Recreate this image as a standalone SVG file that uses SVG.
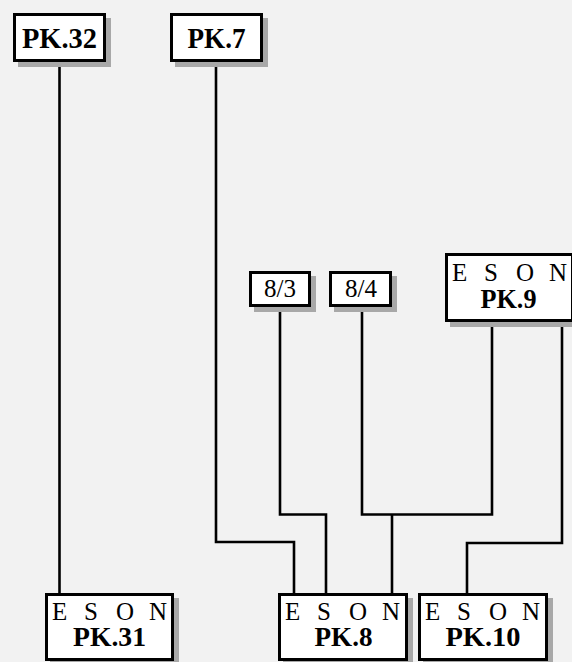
<svg xmlns="http://www.w3.org/2000/svg" width="572" height="662" viewBox="0 0 572 662">
<style>
.bg{fill:#f2f2f2}
.box{fill:#fff;stroke:#000;stroke-width:3}
.sh{fill:#a8a8a8}
.wire{fill:none;stroke:#000;stroke-width:2.6}
.b{font-family:"Liberation Serif","Times New Roman",serif;font-weight:bold;text-anchor:middle;fill:#000}
.r{font-family:"Liberation Serif","Times New Roman",serif;fill:#000}
.eson{font-family:"Liberation Serif","Times New Roman",serif;font-size:25px;fill:#000}
</style>
<rect class="bg" x="0" y="0" width="572" height="662"/>
<g id="connectors">
<path class="wire" d="M59.5 62 V593"/>
<path class="wire" d="M216 62 V542 H294 V593"/>
<path class="wire" d="M280 307 V514.5 H326 V593"/>
<path class="wire" d="M362 307 V514.5 H492 V322"/>
<path class="wire" d="M392 514.5 V593"/>
<path class="wire" d="M562 322 V543 H467 V593"/>
</g>
<g id="PK32">
<rect class="sh" x="18" y="18" width="93" height="49"/>
<rect class="box" x="14.5" y="14.5" width="90" height="46"/>
<text class="b" x="59.5" y="48" font-size="29" textLength="75" lengthAdjust="spacingAndGlyphs">PK.32</text>
</g>
<g id="PK7">
<rect class="sh" x="175" y="18" width="93" height="49"/>
<rect class="box" x="171.5" y="14.5" width="90" height="46"/>
<text class="b" x="216.5" y="48" font-size="29" textLength="58" lengthAdjust="spacingAndGlyphs">PK.7</text>
</g>
<g id="n83">
<rect class="sh" x="254" y="276" width="62" height="36"/>
<rect class="box" x="250.5" y="272.5" width="59" height="33"/>
<text class="r" x="280" y="297" font-size="26" text-anchor="middle" textLength="32" lengthAdjust="spacingAndGlyphs">8/3</text>
</g>
<g id="n84">
<rect class="sh" x="334" y="276" width="63" height="36"/>
<rect class="box" x="330.5" y="272.5" width="60" height="33"/>
<text class="r" x="361" y="297" font-size="26" text-anchor="middle" textLength="32" lengthAdjust="spacingAndGlyphs">8/4</text>
</g>
<g id="PK9">
<rect class="sh" x="450" y="258" width="129" height="69"/>
<rect class="box" x="446.5" y="254.5" width="126" height="66"/>
<text class="eson" x="452 484 516 549" y="281">ESON</text>
<text class="b" x="508.5" y="307.5" font-size="27" textLength="56" lengthAdjust="spacingAndGlyphs">PK.9</text>
</g>
<g id="PK31">
<rect class="sh" x="50" y="598" width="129" height="69"/>
<rect class="box" x="46.5" y="594.5" width="126" height="65"/>
<text class="eson" x="52 84 116 149" y="620">ESON</text>
<text class="b" x="109.5" y="646" font-size="27" textLength="73" lengthAdjust="spacingAndGlyphs">PK.31</text>
</g>
<g id="PK8">
<rect class="sh" x="283" y="598" width="130" height="69"/>
<rect class="box" x="279.5" y="594.5" width="127" height="65"/>
<text class="eson" x="285 317 349 382" y="620">ESON</text>
<text class="b" x="343.5" y="646" font-size="27" textLength="58" lengthAdjust="spacingAndGlyphs">PK.8</text>
</g>
<g id="PK10">
<rect class="sh" x="423" y="598" width="130" height="69"/>
<rect class="box" x="419.5" y="594.5" width="127" height="65"/>
<text class="eson" x="425 457 489 522" y="620">ESON</text>
<text class="b" x="483" y="646" font-size="27" textLength="75" lengthAdjust="spacingAndGlyphs">PK.10</text>
</g>
</svg>
